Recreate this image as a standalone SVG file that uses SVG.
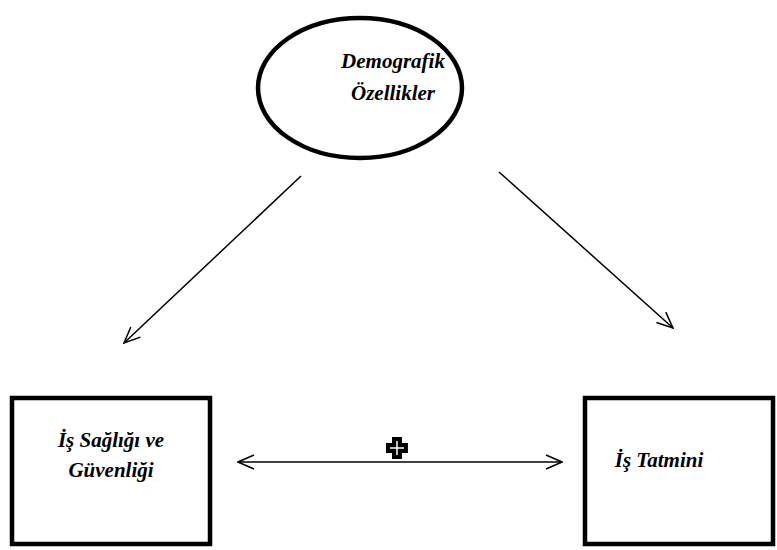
<svg xmlns="http://www.w3.org/2000/svg" width="777" height="550" viewBox="0 0 777 550">
<defs>
<style>
.node{fill:#fff;stroke:#000;stroke-width:4.5}
.lbl{font-family:"Liberation Serif","Times New Roman",serif;font-weight:bold;font-style:italic;font-size:21px;fill:#000;text-anchor:middle}
.conn{stroke:#000;stroke-width:1.5;fill:none}
</style>
<marker id="ah" viewBox="0 0 20 20" refX="19" refY="10" markerWidth="20" markerHeight="20" markerUnits="userSpaceOnUse" orient="auto-start-reverse">
<path d="M3,3 L19,10 L3,17" fill="none" stroke="#000" stroke-width="1.5"/>
</marker>
</defs>
<rect width="777" height="550" fill="#fff"/>
<g id="demografik">
<ellipse class="node" cx="360" cy="88" rx="102" ry="70"/>
<text class="lbl" x="393" y="68">Demografik</text>
<text class="lbl" x="393" y="100">Özellikler</text>
</g>
<g id="is-sagligi">
<rect class="node" x="12" y="398" width="198" height="146"/>
<text class="lbl" x="111" y="447">İş Sağlığı ve</text>
<text class="lbl" x="111" y="477">Güvenliği</text>
</g>
<g id="is-tatmini">
<rect class="node" x="585" y="398" width="188" height="146"/>
<text class="lbl" x="659" y="467">İş Tatmini</text>
</g>
<g id="connectors">
<line class="conn" x1="301" y1="176" x2="124" y2="343" marker-end="url(#ah)"/>
<line class="conn" x1="499" y1="172" x2="673" y2="328" marker-end="url(#ah)"/>
<line class="conn" x1="238" y1="462" x2="562" y2="462" marker-start="url(#ah)" marker-end="url(#ah)"/>
</g>
<g id="plus">
<path d="M392,437 H402 V443 H408 V453 H402 V459 H392 V453 H386 V443 H392 Z" fill="#000"/>
<path d="M397,441 V455 M390,448 H404" stroke="#fff" stroke-width="1.5"/>
</g>
</svg>
